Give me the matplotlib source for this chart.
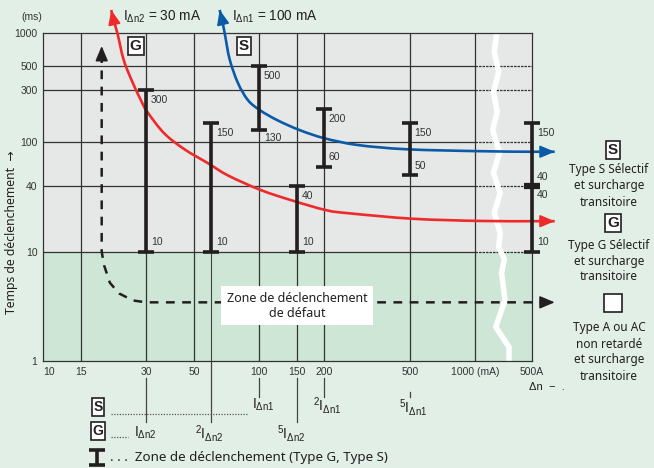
import numpy as np
import matplotlib.pyplot as plt
from matplotlib import font_manager as fm
from matplotlib.patches import Rectangle, PathPatch
from matplotlib.path import Path

W, H = 654, 468
INK = "#231f20"
RED = "#ee2a2a"
BLUE = "#0a5aa8"

names = {f.name for f in fm.fontManager.ttflist}
NARROW = "Liberation Sans Narrow" if "Liberation Sans Narrow" in names else "Noto Sans"
NUM = "Liberation Sans"

# values
y_ticks = [1, 10, 40, 100, 300, 500, 1000]
x_ticks = [10, 15, 30, 50, 100, 150, 200, 500, 1000]
x_tick_labels = ["10", "15", "30", "50", "100", "150", "200", "500", "1000 (mA)"]
x_end = 1840          # broken axis end, labelled 500A

bar_x = [30, 60, 100, 150, 200, 500, x_end]
bar_lo = [10, 10, 130, 10, 60, 50, 10]
bar_hi = [300, 150, 500, 40, 200, 150, 150]
lo_above = [True, True, False, True, True, True, True]

red_x = [20.7, 21.2, 22.1, 23.6, 25.7, 28.4, 30.3, 36.4, 45.2, 58.1, 71.9, 102, 144, 206, 264, 516, 1054, 1840, 2344]
red_y = [1624, 1315, 1000, 574, 372, 243, 192, 121, 86.4, 64.4, 49.8, 36.6, 29.2, 23.9, 22.4, 20, 19.1, 19, 19]

blue_x = [65.8, 67.5, 69.4, 73.2, 80, 89, 101, 122, 155, 201, 286, 484, 1054, 1840, 2344]
blue_y = [1624, 1315, 1000, 574, 348, 243, 197, 159, 129, 109, 94.6, 86.4, 83, 82, 82]

dash_x = [18.7, 18.7, 19.2, 20.4, 22.5, 26.1, 30, 2344]
dash_y = [640, 10, 7.46, 5.2, 4.15, 3.58, 3.44, 3.44]

zig_x = [1264, 1230, 1290, 1220, 1270, 1210, 1300, 1220, 1310, 1230, 1310, 1290, 1370, 1330, 1380, 1250, 1440, 1440]
zig_y = [1000, 671, 441, 289, 190, 130, 80, 52.5, 34.4, 22.6, 14.8, 11, 8.5, 6.4, 3.6, 2.05, 1.34, 1]


def smooth_curve(ax, xs, ys, **kw):
    # cubic Bezier pieces through the read points (log-log space)
    p = np.column_stack([np.log10(xs), np.log10(ys)])
    ext = np.vstack([p[0], p, p[-1]])
    verts = [p[0]]
    for i in range(len(p) - 1):
        a, b, c, d = ext[i], ext[i + 1], ext[i + 2], ext[i + 3]
        verts += [b + (c - a) / 6, c - (d - b) / 6, c]
    codes = [Path.MOVETO] + [Path.CURVE4] * (3 * (len(p) - 1))
    ax.add_patch(PathPatch(Path(10 ** np.array(verts), codes), fill=False,
                           clip_on=False, **kw))


fig = plt.figure(figsize=(W / 100, H / 100), dpi=100)
fig.patch.set_facecolor("#e2efe6")
ax = fig.add_axes([43 / W, 1 - 361 / H, 489 / W, 328 / H])
ax.set_xscale("log")
ax.set_yscale("log")
ax.set_xlim(10, x_end)
ax.set_ylim(1, 1000)
ax.set_facecolor("none")
ax.axhspan(10, 1000, color="#e6e7e7", zorder=0)
ax.axhspan(1, 10, color="#cde6d6", zorder=0)

for y in y_ticks[1:-1]:
    ax.plot([10, 1000], [y, y], color="#333333", lw=0.9, zorder=1)
    ax.plot([1000, x_end], [y, y], color="#333333", lw=0.9, ls=(0, (2, 0.8)), zorder=1)
for x in x_ticks[1:]:
    ax.axvline(x, color="#333333", lw=0.9, zorder=1)
ax.plot([60, 60], [1, 10], color="#444444", lw=0.8, zorder=1)

ax.plot(zig_x, zig_y, color="white", lw=4, zorder=2, solid_joinstyle="miter")

for s in ax.spines.values():
    s.set_color("#333333")
    s.set_linewidth(0.9)

ax.xaxis.set_minor_locator(plt.NullLocator())
ax.yaxis.set_minor_locator(plt.NullLocator())
ax.set_yticks(y_ticks)
ax.set_yticklabels([str(v) for v in y_ticks], fontfamily=NUM, fontsize=7.5, color="#333333")
ax.set_xticks(x_ticks + [x_end])
ax.set_xticklabels(x_tick_labels + ["500A"], fontfamily=NUM, fontsize=7.5, color="#333333")
ax.get_xticklabels()[0].set_ha("left")
ax.tick_params(length=0, pad=4)

# curves
smooth_curve(ax, red_x, red_y, edgecolor=RED, lw=1.9, zorder=4)
smooth_curve(ax, blue_x, blue_y, edgecolor=BLUE, lw=1.9, zorder=4)
ax.plot(dash_x, dash_y, color=INK, lw=1.8, ls=(0, (3.5, 3)), zorder=4, clip_on=False)


def arrow(tip, base, color):
    ax.annotate("", xy=tip, xytext=base, annotation_clip=False,
                arrowprops=dict(arrowstyle="-|>,head_length=0.9,head_width=0.38",
                                color=color, lw=1.2, shrinkA=0, shrinkB=0,
                                mutation_scale=10), zorder=5)


arrow((red_x[0], red_y[0]), (red_x[1], red_y[1]), RED)
arrow((blue_x[0], blue_y[0]), (blue_x[1], blue_y[1]), BLUE)
arrow((red_x[-1], red_y[-1]), (2050, red_y[-1]), RED)
arrow((blue_x[-1], blue_y[-1]), (2050, blue_y[-1]), BLUE)
arrow((dash_x[-1], dash_y[-1]), (2050, dash_y[-1]), INK)
arrow((dash_x[0], 760), (dash_x[0], 620), INK)

# trip zones
for i, (x, lo, hi) in enumerate(zip(bar_x, bar_lo, bar_hi)):
    ax.plot([x, x], [lo, hi], color=INK, lw=2.6, marker="_", ms=12, mew=2.6,
            zorder=6, clip_on=False, solid_capstyle="butt")
    ax.annotate(str(hi), (x, hi), xytext=(3.5, -7), textcoords="offset points",
                ha="left", va="center", fontsize=7.5, fontfamily=NUM, color="#333333", zorder=7)
    ax.annotate(str(lo), (x, lo), xytext=(3.5, 7 if lo_above[i] else -5.5),
                textcoords="offset points", ha="left", va="center",
                fontsize=7.5, fontfamily=NUM, color="#333333", zorder=7)
ax.plot([x_end], [40], marker="_", ms=12, mew=4.5, color=INK, zorder=7, clip_on=False)
for dy in (6.5, -6.5):
    ax.annotate("40", (x_end, 40), xytext=(3.5, dy), textcoords="offset points",
                ha="left", va="center", fontsize=7.5, fontfamily=NUM, color="#333333")

ax.text(150, 3.2, "Zone de déclenchement\nde défaut", ha="center", va="center",
        fontsize=9, fontfamily=NARROW, color=INK, linespacing=1.2, zorder=8,
        bbox=dict(facecolor="white", edgecolor="none", boxstyle="square,pad=0.45"))

box = dict(facecolor="white", edgecolor=INK, lw=1.2, boxstyle="square,pad=0.12")
ax.text(26.9, 760, "G", ha="center", va="center", fontsize=11, fontweight="bold",
        fontfamily=NUM, color=INK, bbox=box, zorder=8)
ax.text(85.3, 760, "S", ha="center", va="center", fontsize=11, fontweight="bold",
        fontfamily=NUM, color=INK, bbox=box, zorder=8)

# ticks below the axis
tx = ax.get_xaxis_transform()
below = [(30, 378, 422), (60, 361, 422), (100, 378, 397), (150, 378, 422), (200, 378, 397), (500, 392, 397)]
for x, p0, p1 in below:
    ax.plot([x, x], [(361 - p0) / 328, (361 - p1) / 328], transform=tx,
            color="#444444", lw=0.9, clip_on=False)

# pixel overlay for labels
ov = fig.add_axes([0, 0, 1, 1])
ov.set_xlim(0, W)
ov.set_ylim(H, 0)
ov.axis("off")
ov.patch.set_alpha(0)

ov.text(32, 17, "(ms)", ha="center", va="center", fontsize=7.5, fontfamily=NUM, color="#333333")
ov.text(123, 17, r"$\mathregular{I_{\Delta n2}}$ = 30 mA", ha="left", va="center",
        fontsize=9.8, fontfamily=NUM, color=INK)
ov.text(232, 17, r"$\mathregular{I_{\Delta n1}}$ = 100 mA", ha="left", va="center",
        fontsize=9.8, fontfamily=NUM, color=INK)
ov.text(12, 232, "Temps de déclenchement  →", rotation=90, ha="center", va="center",
        fontsize=8.8, fontfamily=[NARROW, "DejaVu Sans"], color=INK)

legend_rows = [
    ("S", 150, ["Type S Sélectif", "et surcharge", "transitoire"], 170),
    ("G", 223, ["Type G Sélectif", "et surcharge", "transitoire"], 245),
    ("", 303, ["Type A ou AC", "non retardé", "et surcharge", "transitoire"], 328),
]
for letter, by, lines, ty in legend_rows:
    if letter:
        ov.text(613, by, letter, ha="center", va="center", fontsize=11, fontweight="bold",
                fontfamily=NUM, color=INK, bbox=box)
    else:
        ov.add_patch(Rectangle((604, by - 9), 18, 18, facecolor="white", edgecolor=INK, lw=1.2))
    for k, line in enumerate(lines):
        ov.text(609, ty + 16 * k, line, ha="center", va="center", fontsize=8.5,
                fontfamily=NARROW, color=INK)

ov.text(529, 387, "Δn  −  .", ha="left", va="center", fontsize=8, fontfamily=NUM, color=INK)

sub_labels = [
    (252, 405, r"$\mathregular{I_{\Delta n1}}$"),
    (313, 405, r"$\mathregular{^{2}I_{\Delta n1}}$"),
    (399, 408, r"$\mathregular{^{5}I_{\Delta n1}}$"),
    (134, 433, r"$\mathregular{I_{\Delta n2}}$"),
    (195, 433, r"$\mathregular{^{2}I_{\Delta n2}}$"),
    (277, 433, r"$\mathregular{^{5}I_{\Delta n2}}$"),
]
for px, py, s in sub_labels:
    ov.text(px, py, s, ha="left", va="center", fontsize=10, fontfamily=NUM, color=INK)

ov.text(98, 407, "S", ha="center", va="center", fontsize=10, fontweight="bold",
        fontfamily=NUM, color=INK, bbox=box)
ov.text(98, 431, "G", ha="center", va="center", fontsize=10, fontweight="bold",
        fontfamily=NUM, color=INK, bbox=box)
ov.plot([111, 248], [414, 414], color="#555555", lw=0.9, ls=(0, (1, 1.2)))
ov.plot([111, 128], [437, 437], color="#555555", lw=0.9, ls=(0, (1, 1.2)))

ov.plot([97, 97], [450, 465], color=INK, lw=2.6, marker="_", ms=12, mew=2.6, solid_capstyle="butt")
ov.text(110, 457, ". . .  Zone de déclenchement (Type G, Type S)", ha="left", va="center",
        fontsize=9.6, fontfamily=NARROW, color=INK)

fig.savefig("out.png", dpi=100, facecolor=fig.get_facecolor())
